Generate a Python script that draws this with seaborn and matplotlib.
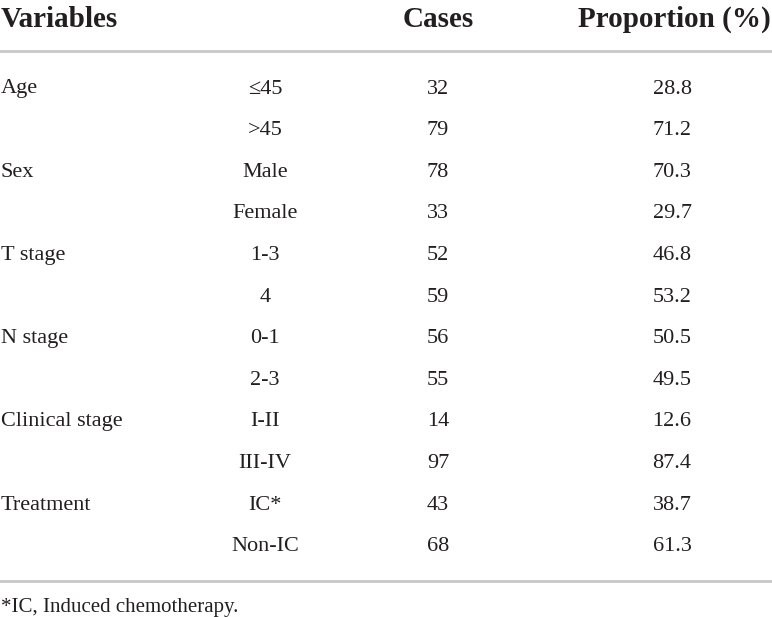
import matplotlib
matplotlib.use("Agg")
import matplotlib.pyplot as plt
import seaborn as sns

sns.set_theme(style="white")
plt.rcParams['font.family'] = ['Liberation Serif', 'DejaVu Serif']

headers = ['Variables', '', 'Cases', 'Proportion (%)']
variables = ['Age', '', 'Sex', '', 'T stage', '', 'N stage', '', 'Clinical stage', '', 'Treatment', '']
levels = ['≤45', '>45', 'Male', 'Female', '1-3', '4', '0-1', '2-3', 'I-II', 'III-IV', 'IC*', 'Non-IC']
cases = [32, 79, 78, 33, 52, 59, 56, 55, 14, 97, 43, 68]
proportions = [28.8, 71.2, 70.3, 29.7, 46.8, 53.2, 50.5, 49.5, 12.6, 87.4, 38.7, 61.3]
footnote = '*IC, Induced chemotherapy.'

W, H = 772, 617
fig = plt.figure(figsize=(W / 100, H / 100), dpi=100)
ax = fig.add_axes([0, 0, 1, 1])
ax.set_xlim(0, W)
ax.set_ylim(H, 0)
ax.axis('off')

txt = '#231f20'
line_c = '#c8c8c8'
col_x = [1, 265, 438, 672]
aligns = ['left', 'center', 'center', 'center']

# header
for h, x, ha in zip(headers, col_x, aligns):
    if h:
        x_h = x if h != 'Proportion (%)' else 674
        ax.text(x_h, 27, h, ha=ha, va='baseline', fontsize=21, fontweight='bold', color=txt)

ax.axhline(51, color=line_c, lw=2)

y0, step = 93.5, 41.6
for i, (v, lv, c, p) in enumerate(zip(variables, levels, cases, proportions)):
    y = y0 + i * step
    row = [v, lv, str(c), f'{p:.1f}']
    for s, x, ha in zip(row, col_x, aligns):
        if s:
            ax.text(x, y, s, ha=ha, va='baseline', fontsize=16, color=txt)

ax.axhline(581, color=line_c, lw=2)
ax.text(1, 612, footnote, ha='left', va='baseline', fontsize=15, color=txt)

fig.savefig('out.png', dpi=100, facecolor='white')
